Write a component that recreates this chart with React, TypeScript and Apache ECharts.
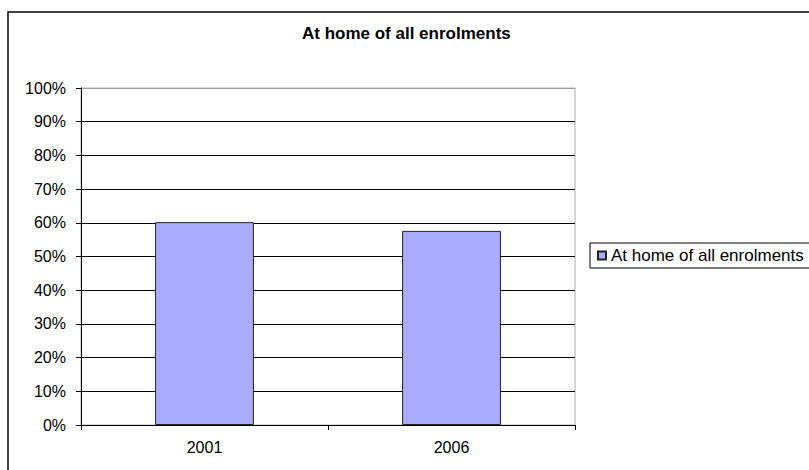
import React, { useEffect, useRef } from "react";
import * as echarts from "echarts";

const categories = ["2001", "2006"];
const seriesName = "At home of all enrolments";
const values = [60.2, 57.6];
const yTicks = [0, 10, 20, 30, 40, 50, 60, 70, 80, 90, 100];

export default function App() {
  const ref = useRef<HTMLDivElement>(null);
  useEffect(() => {
    if (!ref.current) return;
    const chart = echarts.init(ref.current, undefined, { renderer: "svg" });
    const font = "'Liberation Sans', Arial, sans-serif";
    const splitColors = yTicks.map((t) => (t === 100 ? "#a0a0a0" : "#000000"));
    chart.setOption({
      animation: false,
      backgroundColor: "#ffffff",
      textStyle: { fontFamily: font, color: "#000" },
      title: {
        text: seriesName,
        left: 297,
        top: 20,
        textStyle: { fontFamily: font, fontSize: 17, fontWeight: "bold", color: "#000" },
      },
      graphic: [
        {
          type: "rect",
          shape: { x: 8, y: 12, width: 900, height: 600 },
          style: { fill: "none", stroke: "#000", lineWidth: 1.5 },
          silent: true,
        },
      ],
      legend: {
        data: [seriesName],
        left: 590,
        top: 243,
        orient: "vertical",
        itemWidth: 8,
        itemHeight: 8,
        itemGap: 4,
        padding: [4, 6, 4, 7],
        borderColor: "#000",
        borderWidth: 1,
        icon: "rect",
        textStyle: { fontFamily: font, fontSize: 17, color: "#000", padding: [0, 0, 0, 0] },
      },
      grid: {
        left: 81,
        right: 234,
        top: 88,
        bottom: 45,
        show: true,
        borderColor: "#b0b0b0",
        borderWidth: 1,
        backgroundColor: "transparent",
      },
      xAxis: {
        type: "category",
        data: categories,
        boundaryGap: true,
        axisLine: { lineStyle: { color: "#000", width: 1 } },
        axisTick: { show: true, length: 5, lineStyle: { color: "#000" } },
        axisLabel: { fontFamily: font, fontSize: 16, color: "#000", margin: 14 },
      },
      yAxis: {
        type: "value",
        min: 0,
        max: 100,
        interval: 10,
        axisLine: { show: true, lineStyle: { color: "#000", width: 1 } },
        axisTick: { show: true, length: 5, lineStyle: { color: "#000" } },
        axisLabel: {
          fontFamily: font,
          fontSize: 16,
          color: "#000",
          margin: 15,
          formatter: (v: number) => v + "%",
        },
        splitLine: { show: true, lineStyle: { color: splitColors, width: 1 } },
      },
      series: [
        {
          name: seriesName,
          type: "bar",
          data: values,
          barWidth: "40%",
          itemStyle: { color: "#aaaaff", borderColor: "#222", borderWidth: 1 },
        },
      ],
    });
    return () => chart.dispose();
  }, []);
  return (
    <div
      ref={ref}
      style={{ position: "absolute", left: 0, top: 0, width: 809, height: 470 }}
    />
  );
}
